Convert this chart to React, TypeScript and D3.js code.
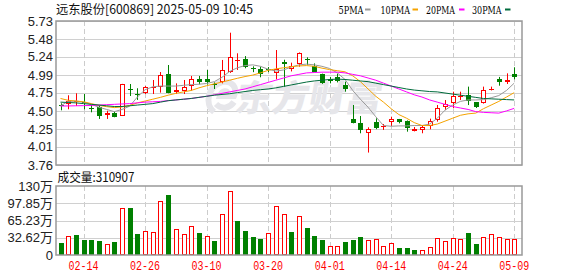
import React from "react";
import * as d3 from "d3";

const dates = ["02-11","02-12","02-13","02-14","02-17","02-18","02-19","02-20","02-21","02-24","02-25","02-26","02-27","02-28","03-03","03-04","03-05","03-06","03-07","03-10","03-11","03-12","03-13","03-14","03-17","03-18","03-19","03-20","03-21","03-24","03-25","03-26","03-27","03-28","03-31","04-01","04-02","04-03","04-07","04-08","04-09","04-10","04-11","04-14","04-15","04-16","04-17","04-18","04-21","04-22","04-23","04-24","04-25","04-28","04-29","04-30","05-06","05-07","05-08","05-09"];

const openP = [4.577,4.595,4.620,4.620,4.540,4.549,4.440,4.467,4.435,4.800,4.735,4.741,4.815,4.832,5.005,4.754,4.768,4.845,4.937,4.932,4.873,4.891,5.028,5.180,5.206,5.090,5.069,5.070,5.014,5.174,5.075,5.142,5.210,5.114,5.005,4.940,4.960,4.850,4.390,4.339,4.202,4.353,4.280,4.353,4.390,4.362,4.225,4.239,4.294,4.376,4.558,4.604,4.700,4.718,4.622,4.604,4.790,4.940,4.895,5.005];
const highP = [4.604,4.714,4.741,4.731,4.580,4.567,4.503,4.490,4.870,4.868,4.810,4.840,4.923,5.032,5.128,4.877,4.923,4.978,4.978,5.060,4.890,5.197,5.570,5.288,5.250,5.110,5.105,5.100,5.333,5.200,5.160,5.300,5.233,5.150,5.010,4.965,5.010,4.900,4.581,4.430,4.276,4.399,4.320,4.421,4.390,4.370,4.280,4.307,4.394,4.581,4.649,4.763,4.763,4.832,4.622,4.832,4.832,4.965,5.014,5.097];
const lowP = [4.508,4.522,4.567,4.522,4.481,4.390,4.390,4.413,4.430,4.704,4.650,4.731,4.731,4.750,4.741,4.731,4.731,4.777,4.864,4.860,4.800,4.877,5.020,5.060,5.083,5.030,4.960,5.030,4.932,4.832,5.040,5.105,5.128,5.030,4.870,4.877,4.890,4.763,4.330,4.194,3.930,4.250,4.240,4.294,4.330,4.216,4.220,4.194,4.248,4.353,4.512,4.536,4.650,4.580,4.540,4.600,4.780,4.845,4.868,4.932];
const closeP = [4.563,4.640,4.630,4.605,4.532,4.435,4.467,4.421,4.864,4.792,4.728,4.823,4.825,4.987,4.750,4.786,4.823,4.932,4.891,4.893,4.850,5.060,5.233,5.190,5.105,5.083,5.005,5.060,5.069,5.137,5.115,5.288,5.200,5.037,4.877,4.909,4.910,4.800,4.330,4.239,4.248,4.262,4.290,4.390,4.353,4.262,4.248,4.276,4.362,4.536,4.595,4.704,4.706,4.640,4.558,4.786,4.800,4.900,4.920,4.968];

const ma5 = [4.57,4.63,4.635,4.62,4.59,4.55,4.52,4.49,4.52,4.565,4.69,4.79,4.83,4.84,4.84,4.84,4.85,4.86,4.865,4.875,4.90,4.96,5.04,5.09,5.12,5.13,5.11,5.07,5.045,5.06,5.10,5.13,5.14,5.13,5.11,5.08,5.02,4.93,4.78,4.66,4.55,4.42,4.30,4.29,4.295,4.295,4.30,4.30,4.32,4.40,4.51,4.58,4.63,4.65,4.65,4.655,4.68,4.71,4.78,4.88];
const ma10 = [4.67,4.645,4.635,4.625,4.60,4.575,4.558,4.545,4.555,4.575,4.61,4.635,4.66,4.686,4.715,4.74,4.76,4.78,4.815,4.845,4.87,4.895,4.92,4.946,4.97,4.99,5.02,5.055,5.075,5.09,5.105,5.115,5.12,5.11,5.085,5.065,5.05,5.035,4.98,4.90,4.80,4.70,4.62,4.53,4.45,4.40,4.34,4.30,4.30,4.32,4.36,4.40,4.44,4.46,4.47,4.53,4.58,4.63,4.69,4.75];
const ma20 = [4.567,4.568,4.57,4.572,4.575,4.58,4.585,4.59,4.595,4.60,4.61,4.62,4.625,4.63,4.64,4.65,4.66,4.67,4.685,4.70,4.72,4.74,4.76,4.78,4.80,4.83,4.86,4.89,4.92,4.95,4.98,5.00,5.02,5.025,5.03,5.03,5.03,5.02,5.00,4.98,4.95,4.92,4.88,4.84,4.80,4.76,4.72,4.69,4.65,4.62,4.59,4.56,4.54,4.52,4.49,4.48,4.475,4.47,4.50,4.535];
const ma30 = [4.62,4.615,4.61,4.60,4.59,4.58,4.57,4.56,4.56,4.57,4.58,4.59,4.60,4.62,4.64,4.65,4.66,4.67,4.685,4.70,4.715,4.725,4.735,4.75,4.765,4.78,4.79,4.80,4.815,4.835,4.855,4.875,4.895,4.91,4.92,4.93,4.935,4.93,4.92,4.91,4.90,4.88,4.86,4.84,4.82,4.80,4.785,4.775,4.765,4.76,4.745,4.73,4.715,4.70,4.685,4.67,4.665,4.66,4.655,4.65];

// volume in 万 (10k shares)
const volume = [23.3,35.9,38.4,28.9,28.9,26.5,20.8,24.6,88.9,88.9,39.7,45.4,43.5,102.7,113.5,49.2,39.7,54.8,42.2,35.9,27.1,77.5,121.0,64.9,46.0,34.6,30.9,41.6,92.7,77.5,44.1,73.7,51.7,36.5,28.9,17.0,17.0,25.2,28.9,34.6,28.4,30.3,17.0,22.7,13.9,13.9,10.1,9.5,15.1,31.5,26.5,32.8,30.3,42.2,20.8,34.0,39.7,34.0,30.9,31.09];
const volUp = [0,1,0,0,0,0,1,0,1,0,0,1,1,1,0,1,1,1,0,1,0,1,1,0,0,0,0,1,1,1,0,1,0,0,0,1,1,0,0,0,1,1,1,1,0,0,0,1,1,1,1,1,1,0,0,1,1,1,1,1];

const priceTicks = [5.73,5.48,5.24,4.99,4.75,4.50,4.25,4.01,3.76];
const priceTickLabels = ["5.73","5.48","5.24","4.99","4.75","4.50","4.25","4.01","3.76"];
const volTicks = [130.47,97.85,65.23,32.62,0];
const volTickLabels = ["130万","97.85万","65.23万","32.62万","0"];
const dateTicks = ["02-14","02-26","03-10","03-20","04-01","04-14","04-24","05-09"];
const legendNames = ["5PMA","10PMA","20PMA","30PMA"];
const titleText = "远东股份[600869] 2025-05-09 10:45";
const volTitle = "成交量:310907";

const RED = "#ff0000";
const GREEN = "#008000";
const maColors = ["#999999", "#f5a300", "#ff00ff", "#006b3c"];

export default function App() {
  const W = 578, H = 276;
  const L = 56, R = 522, T = 21, B = 165, VT = 186, VB = 255;
  const x = d3.scaleBand<string>().domain(dates).range([56.66, 518.05]);
  const cx = (d: string) => (x(d) as number) + x.bandwidth() / 2;
  const y = d3.scaleLinear().domain([3.76, 5.73]).range([B, T]);
  const yv = d3.scaleLinear().domain([0, 130.47]).range([VB, VT]);

  const maSeries = [ma5, ma10, ma20, ma30];
  const lineGen = d3.line<number>().x((_, i) => cx(dates[i])).y((v) => y(v));

  const font = "'Liberation Sans', Arial, 'Noto Sans CJK SC', sans-serif";
  const cjk = "'Noto Sans CJK SC', 'Liberation Sans', sans-serif";
  const mono = "'Liberation Mono', 'DejaVu Sans Mono', monospace";

  const legendX = [338.5, 380.5, 426, 472];
  const legendW = [25, 29.5, 29, 29.5];
  const swatchX = [365, 412.5, 459, 505];

  return (
    <svg width={W} height={H} style={{ position: "absolute", left: 0, top: 0, background: "#fff" }}>
      {/* title & legend */}
      <text x={56} y={14} fontFamily={cjk} fontSize={12.5} fill="#111" textLength={197} lengthAdjust="spacingAndGlyphs">{titleText}</text>
      {legendNames.map((n, i) => (
        <g key={n}>
          <text x={legendX[i]} y={13.5} fontFamily="'DejaVu Serif', 'Liberation Serif', serif" fontSize={11.5} fill="#000" textLength={legendW[i]} lengthAdjust="spacingAndGlyphs">{n}</text>
          <rect x={swatchX[i]} y={8.5} width={5.5} height={2} fill={maColors[i]} />
        </g>
      ))}

      {/* main grid */}
      {priceTicks.map((p, i) => (
        <g key={"pt" + i}>
          <line x1={L} x2={R} y1={Math.round(y(p)) + 0.5} y2={Math.round(y(p)) + 0.5} stroke="#d0d0d0" />
          <text x={53} y={y(p)} dy="0.36em" textAnchor="end" fontFamily={font} fontSize={13} fill="#222">{priceTickLabels[i]}</text>
        </g>
      ))}
      {dateTicks.map((d) => (
        <g key={"dt" + d}>
          <line x1={Math.round(cx(d)) + 0.5} x2={Math.round(cx(d)) + 0.5} y1={T} y2={B} stroke="#cccccc" strokeDasharray="5,3" />
          <line x1={Math.round(cx(d)) + 0.5} x2={Math.round(cx(d)) + 0.5} y1={VT} y2={VB} stroke="#cccccc" strokeDasharray="5,3" />
          <text x={cx(d)} y={270} textAnchor="middle" fontFamily={mono} fontSize={12} fill={RED} textLength={30} lengthAdjust="spacingAndGlyphs">{d}</text>
        </g>
      ))}

      {/* watermark */}
      <g>
        <path d="M214,112 C204,104 208,86 222,82 C232,80 238,88 234,96 L220,96 C222,90 228,90 228,94 M216,104 C222,110 230,108 234,102" fill="none" stroke="#e6e6ea" strokeWidth={6} />
        <g transform="translate(234,111) skewX(-10)">
          <text x={0} y={0} fontFamily={cjk} fontWeight={900} fontSize={36} fill="#e6e6ea" textLength={146} lengthAdjust="spacingAndGlyphs">东方财富</text>
        </g>
      </g>

      {/* candles */}
      {dates.map((d, i) => {
        const c = Math.round(cx(d));
        const up = closeP[i] >= openP[i];
        const top = Math.round(y(Math.max(openP[i], closeP[i])));
        const bot = Math.round(y(Math.min(openP[i], closeP[i])));
        const h = bot - top;
        const col = up ? RED : GREEN;
        return (
          <g key={"c" + i}>
            <line x1={c + 0.5} x2={c + 0.5} y1={y(highP[i])} y2={y(lowP[i])} stroke={col} />
            {up && h >= 2 ? (
              <rect x={c - 1.5} y={top + 0.5} width={4} height={h - 1} fill="#fff" stroke={col} />
            ) : (
              <rect x={c - 2} y={top} width={5} height={Math.max(h, 1)} fill={col} />
            )}
          </g>
        );
      })}

      {/* MA lines */}
      {maSeries.map((s, k) => (
        <path key={"ma" + k} d={lineGen(s) as string} fill="none" stroke={maColors[k]} strokeWidth={1} />
      ))}

      {/* main frame */}
      <rect x={L} y={T} width={R - L} height={B - T} fill="none" stroke="#999" strokeWidth={1.5} />

      {/* volume */}
      <text x={57.5} y={182} fontFamily={cjk} fontSize={12.5} fill="#111" textLength={77} lengthAdjust="spacingAndGlyphs">{volTitle}</text>
      {volTicks.map((v, i) => (
        <g key={"vt" + i}>
          {i > 0 && i < volTicks.length - 1 && (
            <line x1={L} x2={R} y1={Math.round(yv(v)) + 0.5} y2={Math.round(yv(v)) + 0.5} stroke="#d0d0d0" />
          )}
          <text x={53} y={yv(v)} dy="0.36em" textAnchor="end" fontFamily={font} fontSize={13} fill="#222">{volTickLabels[i]}</text>
        </g>
      ))}
      {dates.map((d, i) => {
        const c = Math.round(cx(d));
        const top = Math.round(yv(volume[i]));
        const up = volUp[i] === 1;
        return up ? (
          <rect key={"v" + i} x={c - 1.5} y={top + 0.5} width={4} height={VB - top - 1} fill="#fff" stroke={RED} />
        ) : (
          <rect key={"v" + i} x={c - 2} y={top} width={5} height={VB - top} fill={GREEN} />
        );
      })}
      <rect x={L} y={VT} width={R - L} height={VB - VT} fill="none" stroke="#999" strokeWidth={1.5} />
    </svg>
  );
}
